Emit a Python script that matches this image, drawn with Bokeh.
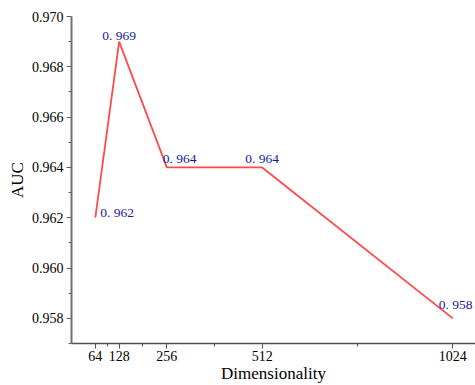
from bokeh.plotting import figure
from bokeh.models import ColumnDataSource, FixedTicker, Range1d, PrintfTickFormatter
from bokeh.core.properties import value
from bokeh.embed import file_html
from bokeh.resources import INLINE

# data
dims = [64, 128, 256, 512, 1024]
auc = [0.962, 0.969, 0.964, 0.964, 0.958]
auc_labels = ["0. 962", "0. 969", "0. 964", "0. 964", "0. 958"]
x_ticks = [64, 128, 256, 512, 1024]
x_minor = [96, 192, 384, 768]
y_ticks = [0.958, 0.960, 0.962, 0.964, 0.966, 0.968, 0.970]
y_minor = [0.957, 0.959, 0.961, 0.963, 0.965, 0.967, 0.969]

# label placement (screen px)
label_dx = [5, -17, -4, -17, -14]
label_dy = [-5, -6, -9, -9, -14]

src = ColumnDataSource(dict(x=dims, y=auc, t=auc_labels, dx=label_dx, dy=label_dy))

SERIF = "'Liberation Serif', 'Times New Roman', serif"

p = figure(width=475, height=385, output_backend="svg", toolbar_location=None,
           x_range=Range1d(0, 1085), y_range=Range1d(0.957, 0.970),
           min_border_left=71, min_border_right=0, min_border_top=16, min_border_bottom=42)
p.outline_line_color = None
p.grid.visible = False
p.background_fill_color = "white"
p.border_fill_color = "white"

p.line("x", "y", source=src, line_color="#ff4a4a", line_width=1.8)
p.text("x", "y", text="t", source=src, x_offset="dx", y_offset="dy",
       text_font=value("Liberation Serif"), text_font_size="13.5px",
       text_color="#1a1a9a", text_align="left", text_baseline="alphabetic")

xa = p.xaxis[0]
xa.ticker = FixedTicker(ticks=x_ticks, minor_ticks=x_minor)
xa.axis_label = "Dimensionality"
ya = p.yaxis[0]
ya.ticker = FixedTicker(ticks=y_ticks, minor_ticks=y_minor)
ya.formatter = PrintfTickFormatter(format="%.3f")
ya.axis_label = "AUC"

for ax in (xa, ya):
    ax.major_label_text_font = SERIF
    ax.major_label_text_font_size = "14px"
    ax.major_label_text_color = "black"
    ax.axis_label_text_font = SERIF
    ax.axis_label_text_font_size = "17px"
    ax.axis_label_text_font_style = "normal"
    ax.axis_label_text_color = "black"
    ax.major_tick_in = 0
    ax.major_tick_out = 5
    ax.minor_tick_in = 0
    ax.minor_tick_out = 3

xa.major_label_standoff = 2
xa.axis_label_standoff = 0
xa.axis_line_color = "#505050"
xa.axis_line_width = 1.5
xa.major_tick_line_color = "#505050"
xa.minor_tick_line_color = "#505050"
ya.major_label_standoff = 3
ya.axis_label_standoff = 2
ya.axis_line_color = "#707070"
ya.axis_line_width = 2
ya.major_tick_line_color = "#606060"
ya.minor_tick_line_color = "#606060"

open("out.html", "w").write(file_html(p, INLINE))
